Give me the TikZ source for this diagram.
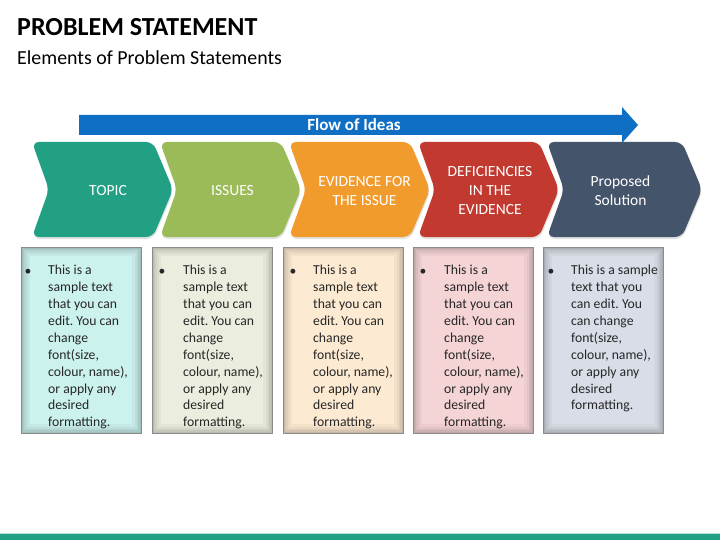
\documentclass[tikz,border=0pt]{standalone}
\usepackage{fontspec}
\setmainfont{Carlito}
\frenchspacing
\usetikzlibrary{positioning,shadows}
\definecolor{topicc}{RGB}{33,160,132}
\definecolor{issuec}{RGB}{155,187,89}
\definecolor{evidc}{RGB}{242,155,45}
\definecolor{deficc}{RGB}{194,57,47}
\definecolor{solc}{RGB}{68,84,106}
\definecolor{flowc}{RGB}{15,111,196}
\definecolor{boxa}{RGB}{204,242,238}
\definecolor{boxb}{RGB}{235,237,222}
\definecolor{boxc}{RGB}{253,234,210}
\definecolor{boxd}{RGB}{245,212,214}
\definecolor{boxe}{RGB}{216,221,231}
\tikzset{
  chev/.style={rounded corners=7pt, drop shadow={shadow xshift=.6pt, shadow yshift=-2pt, opacity=.22}},
  chevtxt/.style={font=\fontsize{15.5}{19}\selectfont, text=white, align=center},
  txtbox/.style={rectangle, anchor=north west, minimum width=120pt, minimum height=186pt,
    inner sep=0pt, draw=black!45, line width=.8pt,
    path picture={
      \draw[black, opacity=.035, line width=18pt] (path picture bounding box.south west) rectangle (path picture bounding box.north east);
      \draw[black, opacity=.04, line width=13pt] (path picture bounding box.south west) rectangle (path picture bounding box.north east);
      \draw[black, opacity=.045, line width=9pt] (path picture bounding box.south west) rectangle (path picture bounding box.north east);
      \draw[black, opacity=.05, line width=6pt] (path picture bounding box.south west) rectangle (path picture bounding box.north east);
      \draw[black, opacity=.06, line width=3.5pt] (path picture bounding box.south west) rectangle (path picture bounding box.north east);
      \draw[black, opacity=.08, line width=1.8pt] (path picture bounding box.south west) rectangle (path picture bounding box.north east);
    }},
  bul/.style={anchor=base, font=\fontsize{13.7}{16.9}\selectfont, text=black!85},
  btxt/.style={anchor=north west, inner sep=0pt, align=left, font=\fontsize{13.7}{16.9}\selectfont, text=black!85},
}
\begin{document}
\begin{tikzpicture}[x=1pt, y=-1pt]
  \useasboundingbox[fill=white] (0,0) rectangle (720,540);

  %% ============================================
  %% TITLE
  %% ============================================
  \node[anchor=base west, inner sep=0pt, font=\fontsize{26}{30}\selectfont\bfseries] (title) at (17,36) {PROBLEM STATEMENT};
  \node[anchor=base west, inner sep=0pt, font=\fontsize{19.9}{24}\selectfont] (subtitle) at (17,65) {Elements of Problem Statements};

  %% ============================================
  %% FLOW ARROW
  %% ============================================
  \fill[flowc] (79,115) -- (622,115) -- (622,107) -- (638,125) -- (622,143) -- (622,135) -- (79,135) -- cycle;
  \node[font=\fontsize{17}{20}\selectfont\bfseries, text=white] (flow) at (354,125) {Flow of Ideas};

  %% ============================================
  %% CHEVRONS
  %% ============================================
  \fill[chev, fill=topicc] (32,142) -- ++(121,0) -- ++(20,47.5) -- ++(-20,47.5) -- ++(-121,0) -- ++(17,-47.5) -- cycle;
  \fill[chev, fill=issuec] (160,142) -- ++(121,0) -- ++(20,47.5) -- ++(-20,47.5) -- ++(-121,0) -- ++(17,-47.5) -- cycle;
  \fill[chev, fill=evidc] (289,142) -- ++(121,0) -- ++(20,47.5) -- ++(-20,47.5) -- ++(-121,0) -- ++(17,-47.5) -- cycle;
  \fill[chev, fill=deficc] (418,142) -- ++(121,0) -- ++(20,47.5) -- ++(-20,47.5) -- ++(-121,0) -- ++(17,-47.5) -- cycle;
  \fill[chev, fill=solc] (547,142) -- ++(135,0) -- ++(20,47.5) -- ++(-20,47.5) -- ++(-135,0) -- ++(17,-47.5) -- cycle;

  % Chevron labels
  \node[chevtxt] (topic) at (108,191) {TOPIC};
  \node[chevtxt] (issues) at (232.5,191) {ISSUES};
  \node[chevtxt] (evid) at (364.5,191) {EVIDENCE FOR\\THE ISSUE};
  \node[chevtxt] (defic) at (490,191) {DEFICIENCIES\\IN THE\\EVIDENCE};
  \node[chevtxt] (sol) at (620.5,191) {Proposed\\Solution};

  %% ============================================
  %% TEXT BOXES
  %% ============================================
  \node[txtbox, fill=boxa] (b1) at (21,247) {};
  \node[txtbox, fill=boxb] (b2) at (152,247) {};
  \node[txtbox, fill=boxc] (b3) at (283,247) {};
  \node[txtbox, fill=boxd] (b4) at (413,247) {};
  \node[txtbox, fill=boxe] (b5) at (543,247) {};

  % Bullets
  \node[bul] (u1) at (28,275) {\textbullet};
  \node[bul] (u2) at (162,275) {\textbullet};
  \node[bul] (u3) at (293,275) {\textbullet};
  \node[bul] (u4) at (423,275) {\textbullet};
  \node[bul] (u5) at (551,275) {\textbullet};

  % Box texts
  \node[btxt] (t1) at (48,265) {This is a\\sample text\\that you can\\edit. You can\\change\\font(size,\\colour, name),\\or apply any\\desired\\formatting.};
  \node[btxt] (t2) at (183,265) {This is a\\sample text\\that you can\\edit. You can\\change\\font(size,\\colour, name),\\or apply any\\desired\\formatting.};
  \node[btxt] (t3) at (313,265) {This is a\\sample text\\that you can\\edit. You can\\change\\font(size,\\colour, name),\\or apply any\\desired\\formatting.};
  \node[btxt] (t4) at (444,265) {This is a\\sample text\\that you can\\edit. You can\\change\\font(size,\\colour, name),\\or apply any\\desired\\formatting.};
  \node[btxt] (t5) at (571,265) {This is a sample\\text that you\\can edit. You\\can change\\font(size,\\colour, name),\\or apply any\\desired\\formatting.};

  %% ============================================
  %% BOTTOM BAR
  %% ============================================
  \fill[topicc!30] (0,532.5) rectangle (720,534);
  \fill[topicc] (0,534) rectangle (720,540);
\end{tikzpicture}
\end{document}
